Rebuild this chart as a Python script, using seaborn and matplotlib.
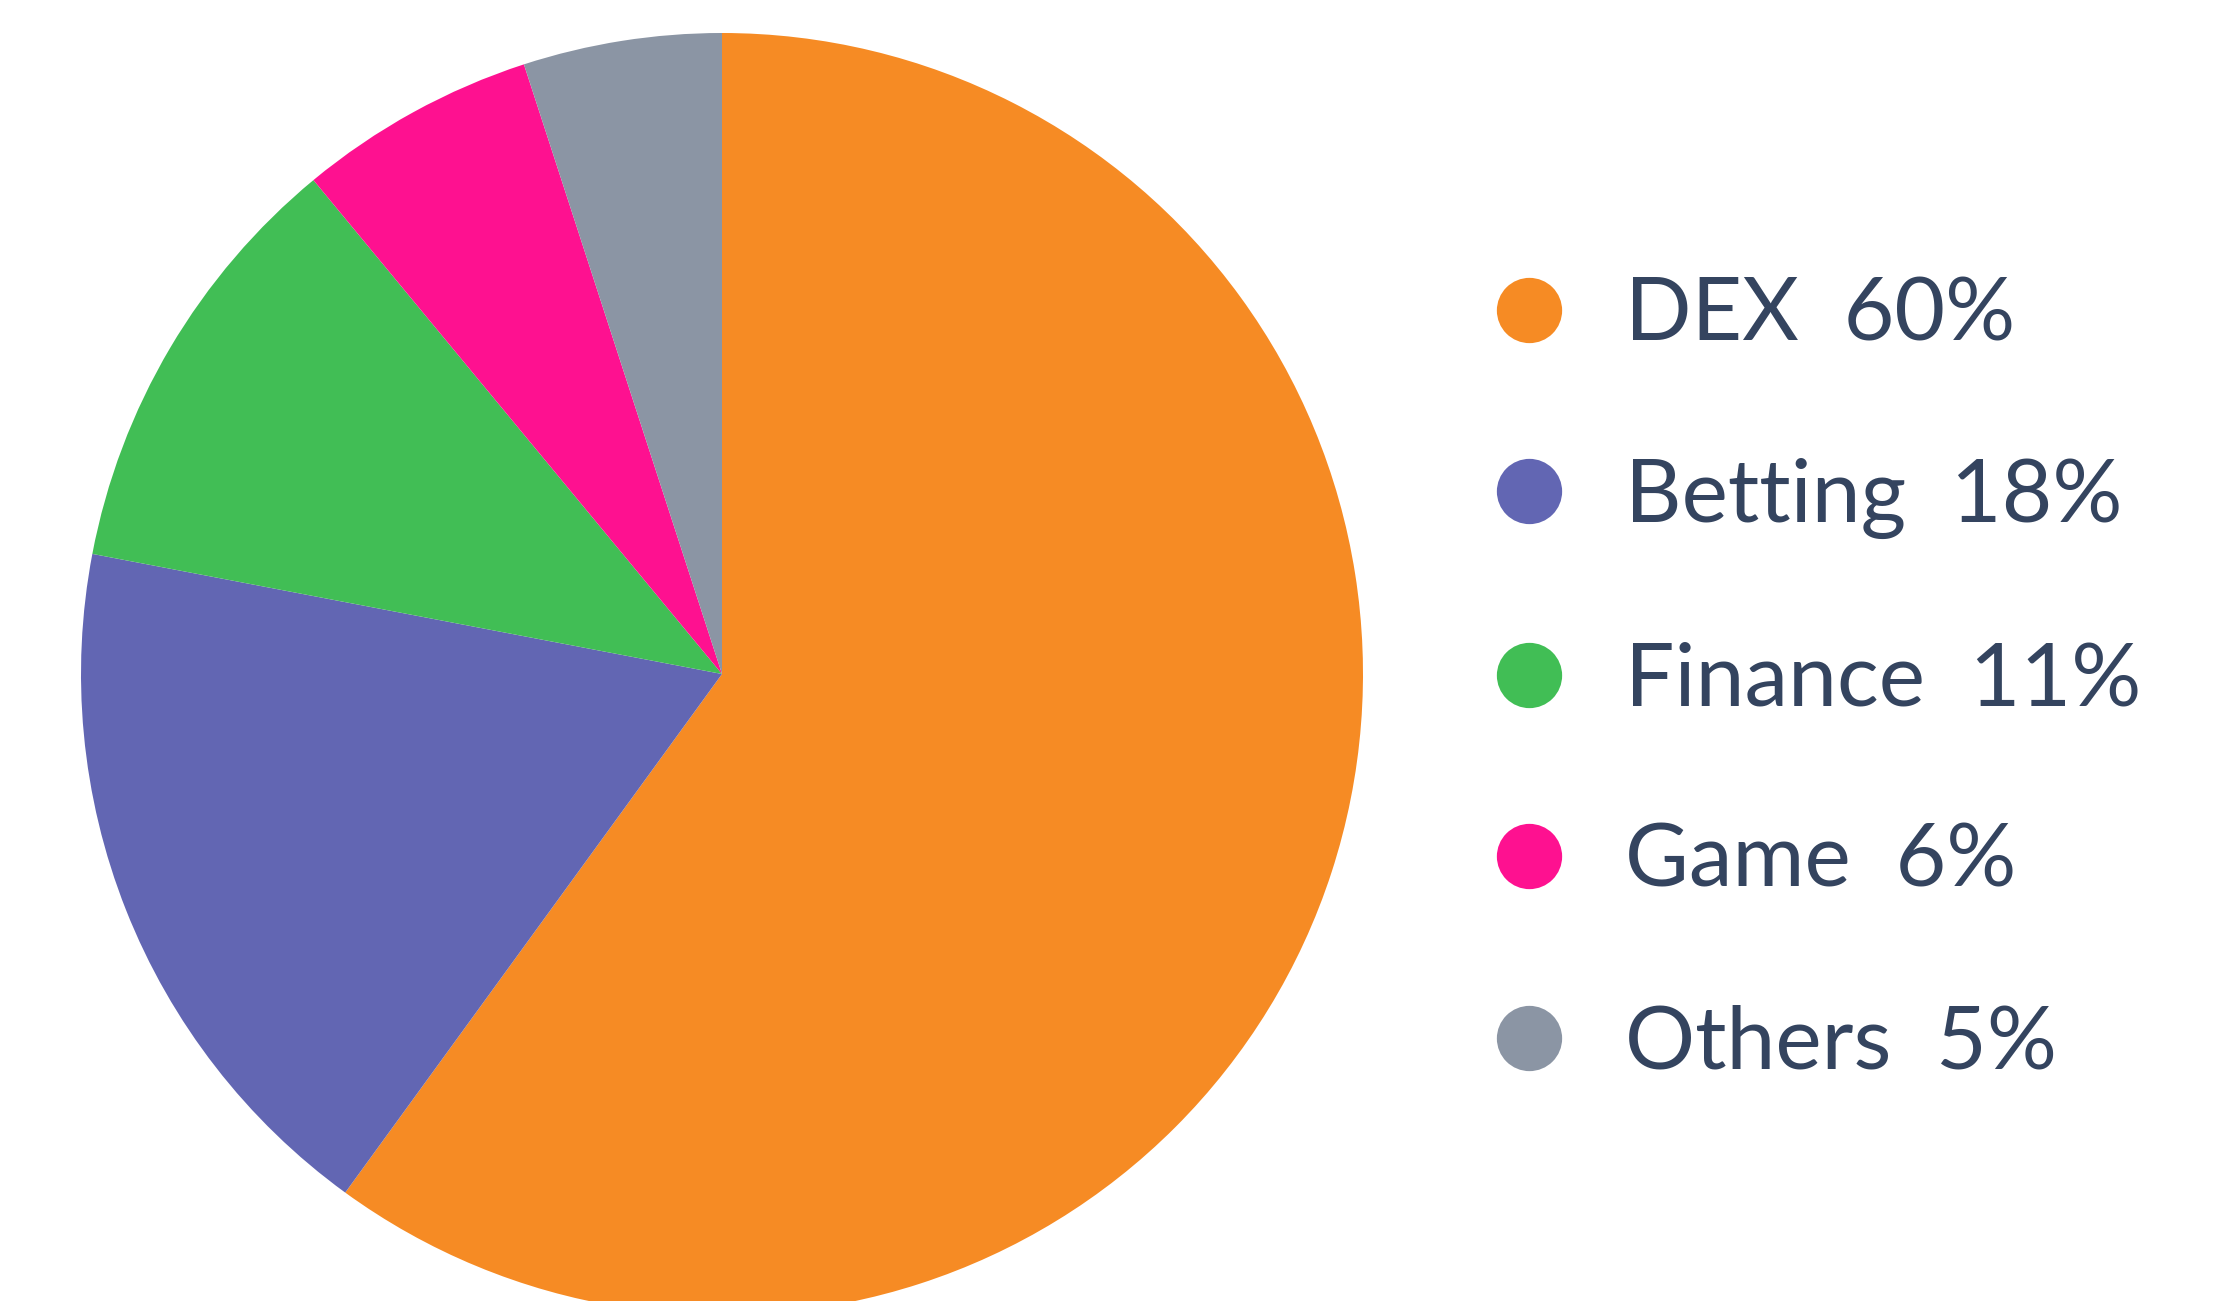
import matplotlib
matplotlib.use("Agg")
import matplotlib.pyplot as plt
import seaborn as sns
from matplotlib.lines import Line2D

categories = ["DEX", "Betting", "Finance", "Game", "Others"]
shares = [60, 18, 11, 6, 5]
colors = ["#F68B24", "#6266B3", "#41BE55", "#FE1190", "#8B95A4"]
text_color = "#34445F"

sns.set_theme(style="white")
plt.rcParams["font.family"] = ["Lato", "DejaVu Sans"]

fig = plt.figure(figsize=(22.19, 13.01), dpi=100)
# pie is bigger than the figure height, bottom gets cut off like the original
ax = fig.add_axes([81 / 2219, -14 / 1301, 1282 / 2219, 1282 / 1301])
ax.pie(shares, colors=colors, startangle=90, counterclock=False,
       radius=1, wedgeprops=dict(linewidth=0))
ax.set_xlim(-1, 1)
ax.set_ylim(-1, 1)
ax.set_aspect("equal")
ax.axis("off")

handles = [Line2D([0], [0], marker="o", linestyle="", markersize=47,
                  markerfacecolor=c, markeredgewidth=0) for c in colors]
labels = [f"{c}  {s}%" for c, s in zip(categories, shares)]
leg = fig.legend(handles, labels, loc="center left",
                 bbox_to_anchor=(1485 / 2219, 621 / 1301),
                 frameon=False, fontsize=63, handlelength=1.0,
                 handletextpad=0.6, labelspacing=1.17, borderpad=0,
                 borderaxespad=0)
for t in leg.get_texts():
    t.set_color(text_color)

fig.savefig("out.png", dpi=100, facecolor="white")
